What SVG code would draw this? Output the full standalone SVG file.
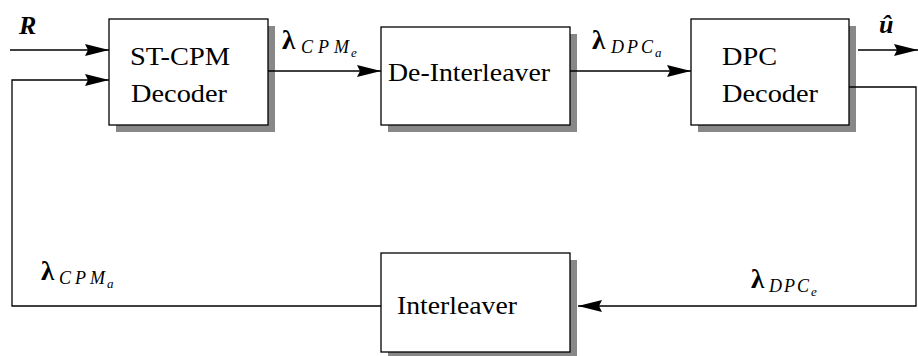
<svg xmlns="http://www.w3.org/2000/svg" width="918" height="356" viewBox="0 0 918 356">
<style>
.box{fill:#fff;stroke:#000;stroke-width:1.3}
.shadow{fill:#888;stroke:none}
.t{font-family:"Liberation Serif","Times New Roman",serif;font-size:26px;fill:#000}
.lam{font-family:"Liberation Serif","Times New Roman",serif;font-size:27px;font-weight:bold;fill:#000}
.sub{font-family:"Liberation Serif","Times New Roman",serif;font-size:18px;font-style:italic;fill:#000}
.sub2{font-family:"Liberation Serif","Times New Roman",serif;font-size:13px;font-style:italic;fill:#000}
.bi{font-family:"Liberation Serif","Times New Roman",serif;font-size:26px;font-style:italic;font-weight:bold;fill:#000}
.wire{fill:none;stroke:#000;stroke-width:1.3}
</style>
<defs>
<marker id="ah" markerUnits="userSpaceOnUse" markerWidth="24" markerHeight="12" refX="24" refY="6" orient="auto">
<path d="M0,0 L24,6 L0,12 L3,6 z" fill="#000"/>
</marker>
</defs>
<g id="stcpm">
<rect class="shadow" x="116" y="26" width="159" height="106"/>
<rect class="box" x="109" y="19" width="159" height="106"/>
<text class="t" x="130" y="65" textLength="100" lengthAdjust="spacingAndGlyphs">ST-CPM</text>
<text class="t" x="131" y="102" textLength="96" lengthAdjust="spacingAndGlyphs">Decoder</text>
</g>
<g id="deinterleaver">
<rect class="shadow" x="388" y="34" width="189" height="98"/>
<rect class="box" x="381" y="27" width="189" height="98"/>
<text class="t" x="388" y="81" textLength="162" lengthAdjust="spacingAndGlyphs">De-Interleaver</text>
</g>
<g id="dpc">
<rect class="shadow" x="698" y="26" width="158" height="106"/>
<rect class="box" x="691" y="19" width="158" height="106"/>
<text class="t" x="722" y="65" textLength="55" lengthAdjust="spacingAndGlyphs">DPC</text>
<text class="t" x="722" y="102" textLength="96" lengthAdjust="spacingAndGlyphs">Decoder</text>
</g>
<g id="interleaver">
<rect class="shadow" x="388" y="260" width="189" height="99"/>
<rect class="box" x="381" y="253" width="189" height="99"/>
<text class="t" x="397" y="314" textLength="120" lengthAdjust="spacingAndGlyphs">Interleaver</text>
</g>
<g id="connectors">
<path class="wire" d="M10,50 H109" marker-end="url(#ah)"/>
<path class="wire" d="M381,306 H12 V80 H109" marker-end="url(#ah)"/>
<path class="wire" d="M268,71 H381" marker-end="url(#ah)"/>
<path class="wire" d="M570,71 H691" marker-end="url(#ah)"/>
<path class="wire" d="M858,50 H918" marker-end="url(#ah)"/>
<path class="wire" d="M849,87 H916 V306 H578" marker-end="url(#ah)"/>
</g>
<g id="labels">
<text class="bi" x="19" y="34">R</text>
<text class="bi" x="879" y="33">û</text>
<text class="lam" x="282" y="49">λ</text>
<text class="sub" x="301" y="53" textLength="48" lengthAdjust="spacing">CPM</text>
<text class="sub2" x="351" y="57">e</text>
<text class="lam" x="592" y="49">λ</text>
<text class="sub" x="611" y="53" textLength="42" lengthAdjust="spacing">DPC</text>
<text class="sub2" x="655" y="57">a</text>
<text class="lam" x="41" y="280">λ</text>
<text class="sub" x="59" y="284" textLength="46" lengthAdjust="spacing">CPM</text>
<text class="sub2" x="107" y="288">a</text>
<text class="lam" x="751" y="288">λ</text>
<text class="sub" x="769" y="292" textLength="40" lengthAdjust="spacing">DPC</text>
<text class="sub2" x="811" y="296">e</text>
</g>
</svg>
